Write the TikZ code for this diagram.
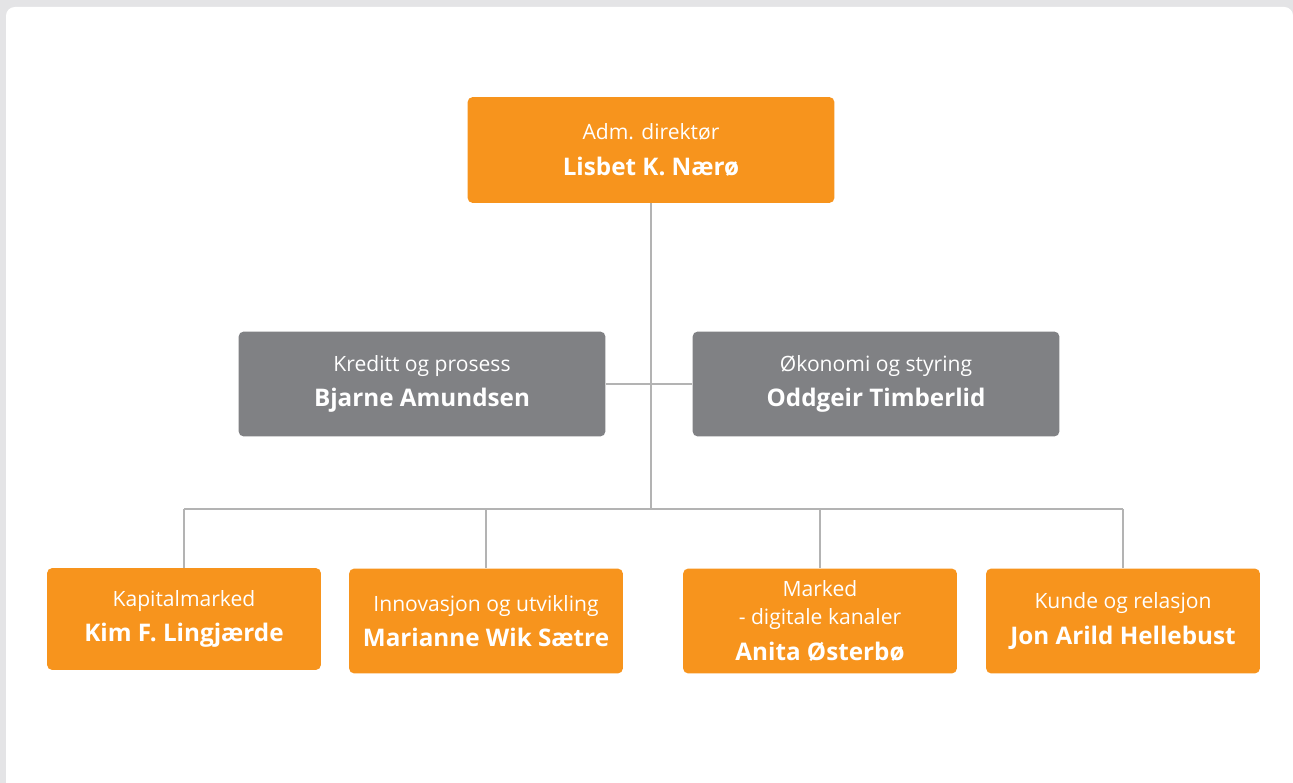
\documentclass[tikz,border=0pt]{standalone}
\usepackage{fontspec}
\setmainfont{Open Sans}
\usetikzlibrary{positioning}

\definecolor{orgorange}{HTML}{F7941D}
\definecolor{orggray}{HTML}{808184}
\definecolor{orgline}{HTML}{B3B3B3}
\definecolor{orgbg}{HTML}{E4E4E6}

\tikzset{
  unitbox/.style={rounded corners=3pt, text=white, align=center, inner sep=0pt,
    font=\fontsize{12}{20}\selectfont},
  headbox/.style={unitbox, fill=orgorange, minimum width=7.34cm, minimum height=2.12cm},
  staffbox/.style={unitbox, fill=orggray, minimum width=7.34cm, minimum height=2.1cm},
  deptbox/.style={unitbox, fill=orgorange, minimum width=5.48cm, minimum height=2.1cm},
  orgwire/.style={draw=orgline, line width=0.6pt},
}
\newcommand{\who}[1]{{\fontsize{13.8}{20}\selectfont\bfseries #1}}

\begin{document}
\begin{tikzpicture}[x=0.02cm, y=-0.02cm]
    \useasboundingbox (0,0) rectangle (1293,783);
    \fill[orgbg] (0,0) rectangle (1293,783);
    \fill[white, rounded corners=5] (6,7) rectangle (1293,800);

    % top
    \node[headbox] (ceo) at (651,150) {Adm. direktør\\\who{Lisbet K. Nærø}};

    % staff
    \node[staffbox] (kreditt) at (422,384) {Kreditt og prosess\\\who{Bjarne Amundsen}};
    \node[staffbox] (okonomi) at (876,384) {Økonomi og styring\\\who{Oddgeir Timberlid}};

    % departments
    \node[deptbox, minimum height=2.04cm] (kapital) at (184,619) {Kapitalmarked\\\who{Kim F. Lingjærde}};
    \node[deptbox] (innovasjon) at (486,621) {Innovasjon og utvikling\\\who{Marianne Wik Sætre}};
    \node[deptbox] (marked) at (820,621) {Marked\\[-4pt]- digitale kanaler\\\who{Anita Østerbø}};
    \node[deptbox] (kunde) at (1123,621) {Kunde og relasjon\\\who{Jon Arild Hellebust}};

    \coordinate (bus) at (651,509);

    \draw[orgwire] (ceo.south) -- (bus);
    \draw[orgwire] (kreditt.east) -- (okonomi.west);
    \draw[orgwire] (kapital.north |- bus) -- (kunde.north |- bus);
    \draw[orgwire] (kapital.north) -- (kapital.north |- bus);
    \draw[orgwire] (innovasjon.north) -- (innovasjon.north |- bus);
    \draw[orgwire] (marked.north) -- (marked.north |- bus);
    \draw[orgwire] (kunde.north) -- (kunde.north |- bus);
\end{tikzpicture}
\end{document}
